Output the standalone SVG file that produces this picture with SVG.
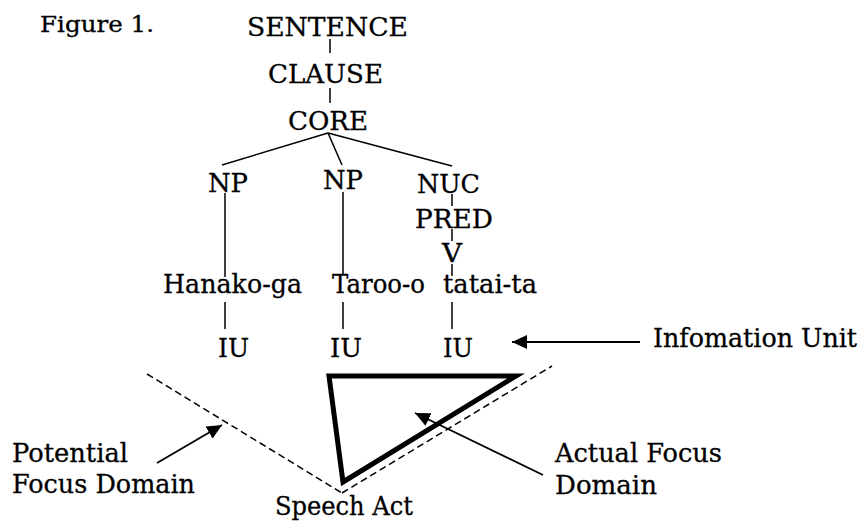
<svg xmlns="http://www.w3.org/2000/svg" width="866" height="523" viewBox="0 0 866 523">
<style>
text{font-family:"DejaVu Serif","Liberation Serif",serif;font-size:25.5px;fill:#000;stroke:#000;stroke-width:0.3}
.fig{font-size:22.5px}
.ln{stroke:#000;stroke-width:1.5;fill:none}
.dash{stroke:#000;stroke-width:1.5;fill:none;stroke-dasharray:7 4}
.arr{stroke:#000;stroke-width:1.8;fill:none;marker-end:url(#ah)}
</style>
<defs>
<marker id="ah" markerUnits="userSpaceOnUse" markerWidth="16" markerHeight="14" refX="15" refY="7" orient="auto">
<path d="M0,0 L15,7 L0,14 z" fill="#000"/>
</marker>
</defs>
<rect width="866" height="523" fill="#fff"/>
<text class="fig" x="40" y="32" textLength="114" lengthAdjust="spacingAndGlyphs">Figure 1.</text>
<g id="connectors">
<line class="ln" x1="330" y1="39" x2="330" y2="53"/>
<line class="ln" x1="330" y1="88" x2="330" y2="103"/>
<line class="ln" x1="328" y1="133" x2="222" y2="165"/>
<line class="ln" x1="328" y1="133" x2="342" y2="165"/>
<line class="ln" x1="328" y1="133" x2="452" y2="166"/>
<line class="ln" x1="225" y1="193" x2="225" y2="277"/>
<line class="ln" x1="343" y1="192" x2="343" y2="274"/>
<line class="ln" x1="452" y1="194" x2="452" y2="206"/>
<line class="ln" x1="452" y1="229" x2="452" y2="241"/>
<line class="ln" x1="452" y1="264" x2="452" y2="276"/>
<line class="ln" x1="225" y1="302" x2="225" y2="329"/>
<line class="ln" x1="343" y1="302" x2="343" y2="329"/>
<line class="ln" x1="452" y1="302" x2="452" y2="329"/>
<line class="arr" x1="640" y1="342" x2="512" y2="342"/>
<line class="arr" x1="157" y1="463" x2="222" y2="425"/>
<line class="arr" x1="543" y1="475" x2="415" y2="413"/>
<line class="dash" x1="147" y1="374" x2="342" y2="493"/>
<line class="dash" x1="342" y1="493" x2="552" y2="366"/>
</g>
<g id="sentence"><text x="247" y="36" textLength="161" lengthAdjust="spacingAndGlyphs">SENTENCE</text></g>
<g id="clause"><text x="268" y="83" textLength="115" lengthAdjust="spacingAndGlyphs">CLAUSE</text></g>
<g id="core"><text x="288" y="130" textLength="80" lengthAdjust="spacingAndGlyphs">CORE</text></g>
<g id="np1"><text x="208" y="192" textLength="40" lengthAdjust="spacingAndGlyphs">NP</text></g>
<g id="np2"><text x="323" y="189" textLength="40" lengthAdjust="spacingAndGlyphs">NP</text></g>
<g id="nuc"><text x="417" y="193" textLength="63" lengthAdjust="spacingAndGlyphs">NUC</text></g>
<g id="pred"><text x="415" y="228" textLength="78" lengthAdjust="spacingAndGlyphs">PRED</text></g>
<g id="v"><text x="442" y="262" textLength="20" lengthAdjust="spacingAndGlyphs">V</text></g>
<g id="hanako"><text x="163" y="293" textLength="139" lengthAdjust="spacingAndGlyphs">Hanako-ga</text></g>
<g id="taroo"><text x="332" y="293" textLength="93" lengthAdjust="spacingAndGlyphs">Taroo-o</text></g>
<g id="tatai"><text x="443" y="293" textLength="94" lengthAdjust="spacingAndGlyphs">tatai-ta</text></g>
<g id="iu1"><text x="218" y="357" textLength="31" lengthAdjust="spacingAndGlyphs">IU</text></g>
<g id="iu2"><text x="330" y="357" textLength="32" lengthAdjust="spacingAndGlyphs">IU</text></g>
<g id="iu3"><text x="443" y="357" textLength="30" lengthAdjust="spacingAndGlyphs">IU</text></g>
<g id="info"><text x="653" y="347" textLength="204" lengthAdjust="spacingAndGlyphs">Infomation Unit</text></g>
<g id="actual-domain"><polygon points="329,376 516,376 343,482" fill="none" stroke="#000" stroke-width="5" stroke-linejoin="miter"/></g>
<g id="potential"><text x="12" y="462" textLength="116" lengthAdjust="spacingAndGlyphs">Potential</text><text x="12" y="493" textLength="183" lengthAdjust="spacingAndGlyphs">Focus Domain</text></g>
<g id="speech"><text x="275" y="515" textLength="138" lengthAdjust="spacingAndGlyphs">Speech Act</text></g>
<g id="actual"><text x="555" y="462" textLength="167" lengthAdjust="spacingAndGlyphs">Actual Focus</text><text x="555" y="494" textLength="102" lengthAdjust="spacingAndGlyphs">Domain</text></g>
</svg>
